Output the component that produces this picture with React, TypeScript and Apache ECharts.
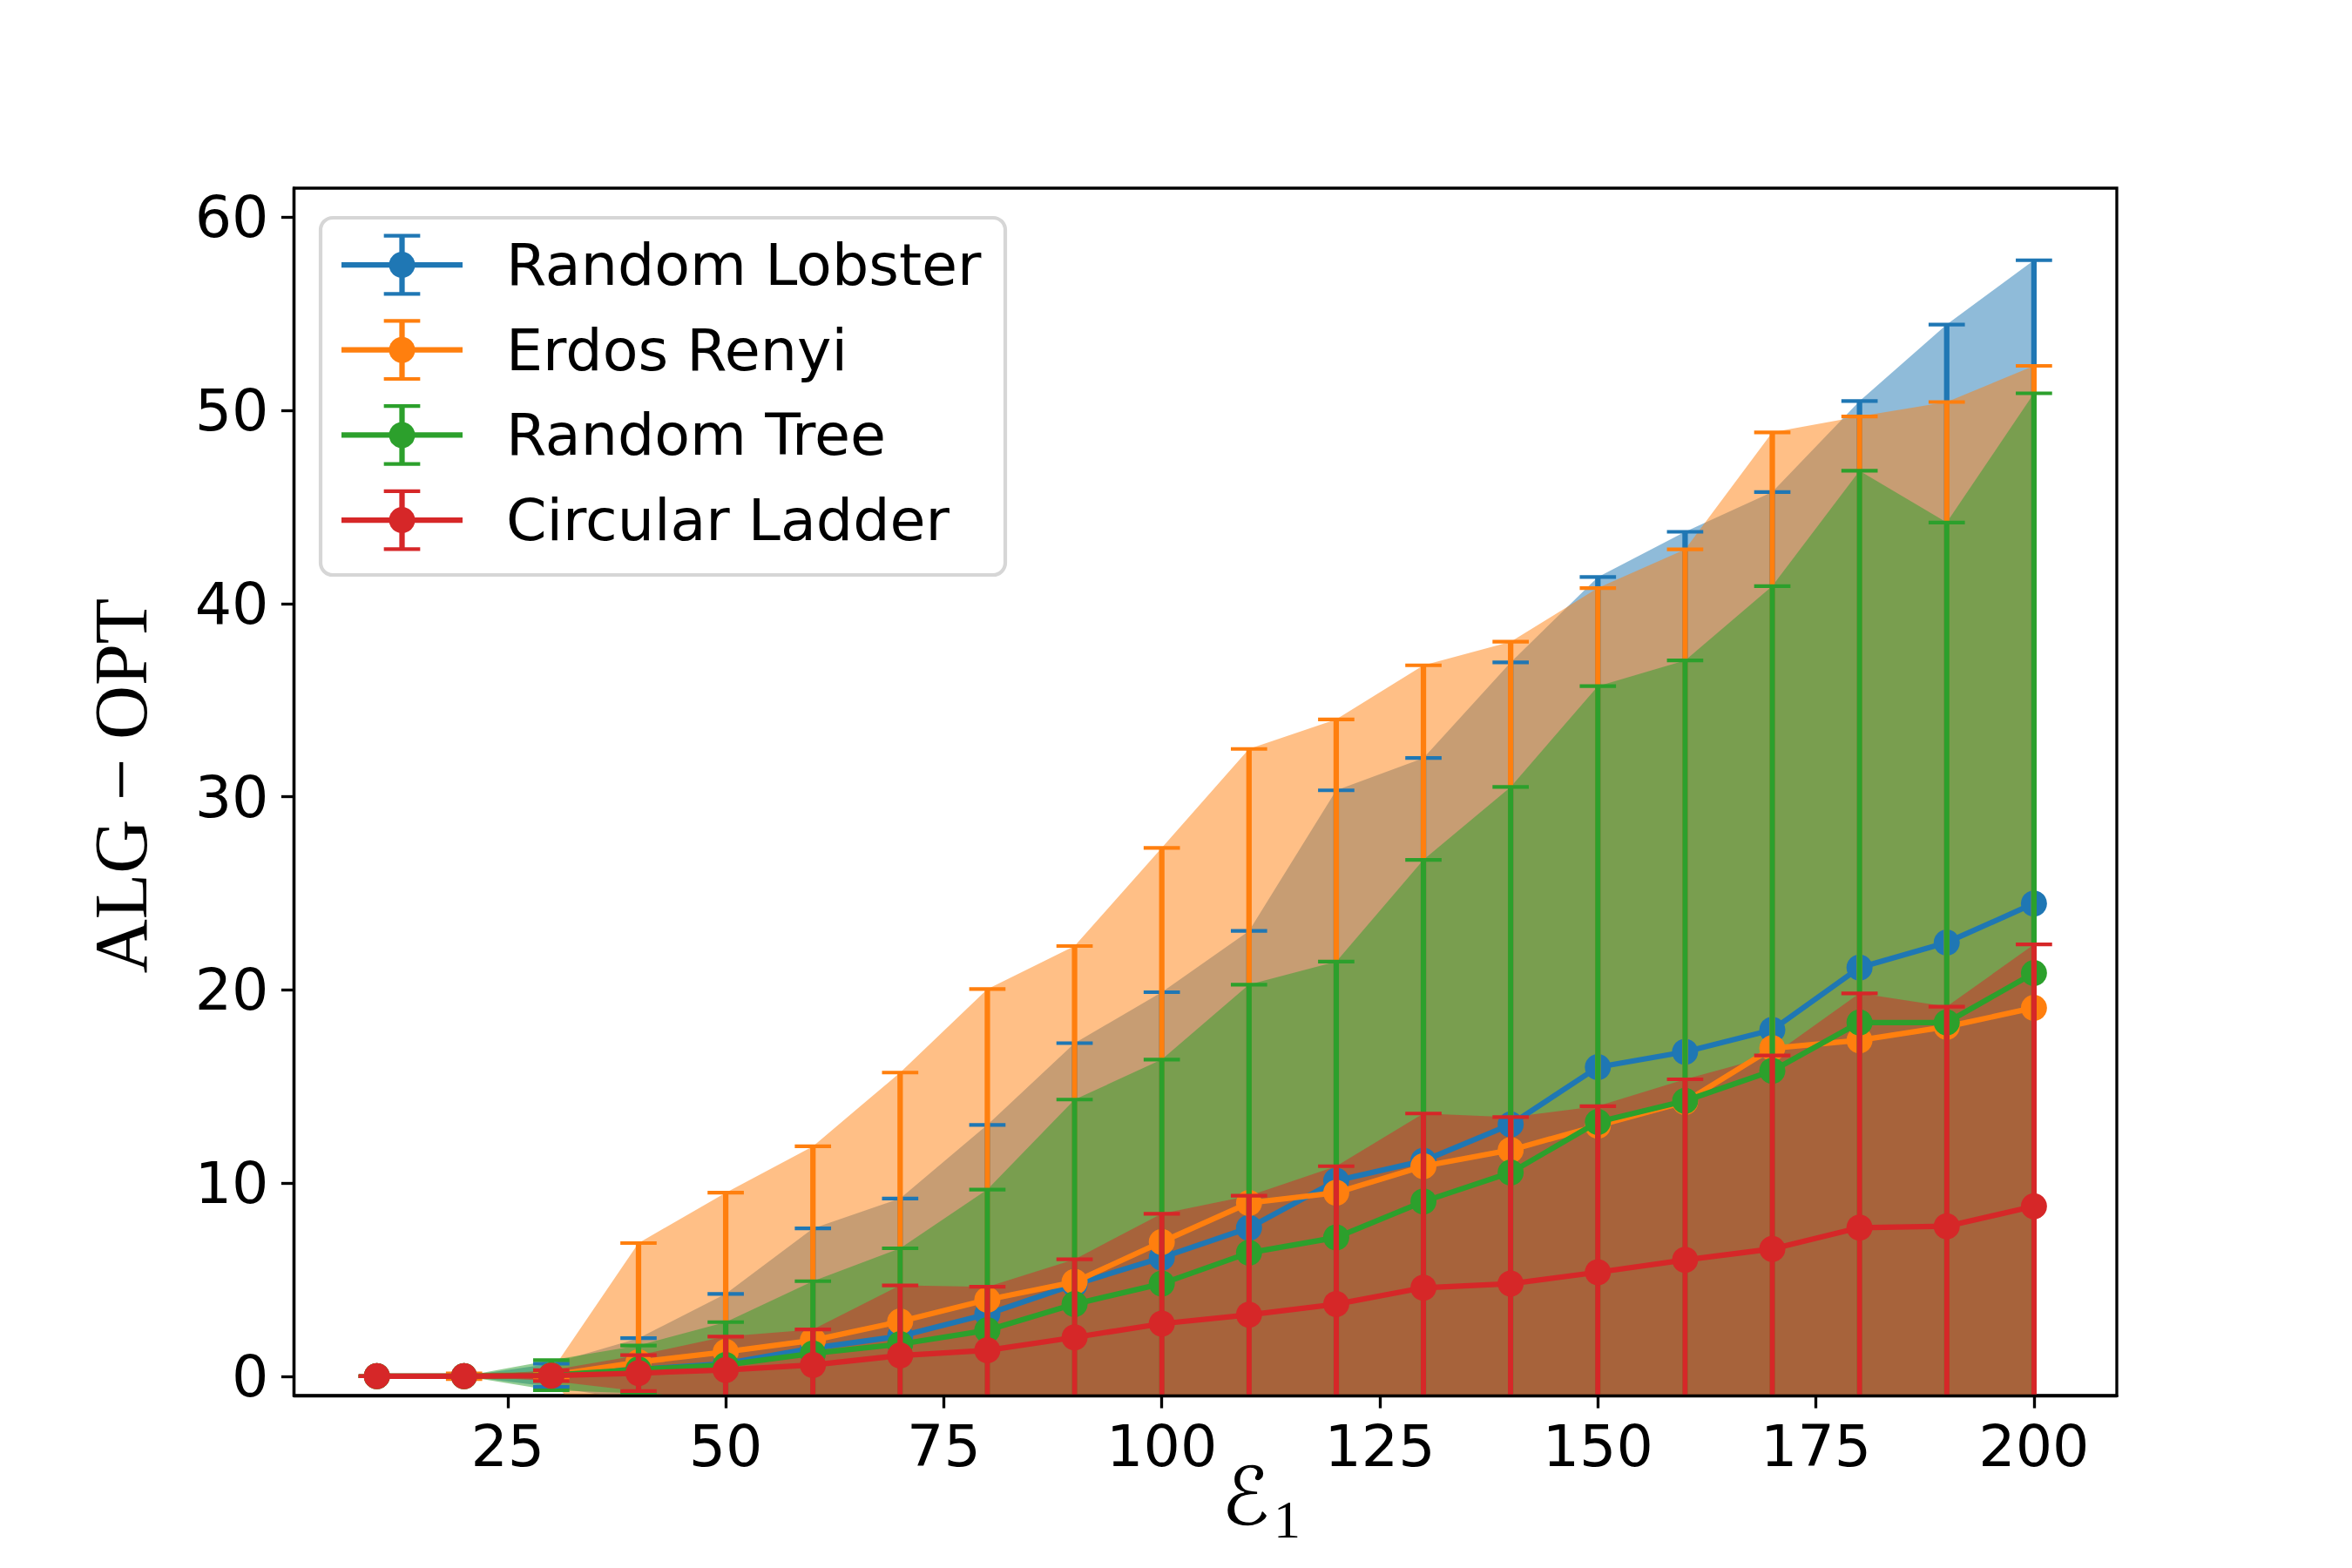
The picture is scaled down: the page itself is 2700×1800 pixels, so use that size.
import React, { useEffect, useRef } from "react";
import * as echarts from "echarts";

// ---------------- data ----------------
const xValues = [10, 20, 30, 40, 50, 60, 70, 80, 90, 100, 110, 120, 130, 140, 150, 160, 170, 180, 190, 200];
const xTickValues = [25, 50, 75, 100, 125, 150, 175, 200];
const yTickValues = [0, 10, 20, 30, 40, 50, 60];

const seriesNames = ["Random Lobster", "Erdos Renyi", "Random Tree", "Circular Ladder"];
const seriesColors = ["#1f77b4", "#ff7f0e", "#2ca02c", "#d62728"];

const lobsterMean = [0, 0, 0.05, 0.35, 0.65, 1.45, 2.07, 3.22, 4.75, 6.14, 7.68, 10.12, 11.15, 13.03, 16.0, 16.79, 17.93, 21.15, 22.45, 24.47];
const lobsterErr = [0, 0, 0.6, 1.62, 3.61, 6.2, 7.13, 9.79, 12.49, 13.74, 15.37, 20.21, 20.85, 23.92, 25.37, 26.92, 27.84, 29.33, 31.99, 33.3];

const erdosMean = [0, 0, 0.05, 0.73, 1.26, 1.86, 2.83, 3.96, 4.88, 6.95, 8.97, 9.5, 10.87, 11.71, 12.97, 14.2, 16.98, 17.39, 18.09, 19.07];
const erdosErr = [0, 0.15, 0.2, 6.16, 8.24, 10.04, 12.89, 16.08, 17.39, 20.4, 23.5, 24.5, 25.93, 26.31, 27.83, 28.6, 31.88, 32.29, 32.34, 33.23];

const treeMean = [0, 0, 0.05, 0.35, 0.58, 1.18, 1.66, 2.38, 3.73, 4.79, 6.39, 7.18, 9.04, 10.54, 13.16, 14.25, 15.81, 18.31, 18.31, 20.87];
const treeErr = [0, 0, 0.78, 1.24, 2.22, 3.74, 4.96, 7.28, 10.59, 11.6, 13.88, 14.28, 17.69, 19.96, 22.56, 22.8, 25.09, 28.56, 25.88, 30.01];

const ladderMean = [0, 0, 0.03, 0.16, 0.32, 0.58, 1.07, 1.34, 2.01, 2.72, 3.18, 3.73, 4.58, 4.79, 5.38, 6.02, 6.59, 7.69, 7.76, 8.8];
const ladderErr = [0, 0, 0.28, 0.93, 1.73, 1.84, 3.63, 3.29, 4.04, 5.69, 6.16, 7.14, 9.02, 8.62, 8.6, 9.35, 10.01, 12.13, 11.37, 13.55];

const seriesMeans = [lobsterMean, erdosMean, treeMean, ladderMean];
const seriesErrs = [lobsterErr, erdosErr, treeErr, ladderErr];

const yLabelText = "ALG \u2212 OPT";
const xLabelMain = "\u2130";
const xLabelSub = "1";

// ---------------- layout ----------------
const W = 2700;
const H = 1800;
const PT = 300 / 72;
const GRID_LEFT = 337.5;
const GRID_RIGHT = 2430;
const GRID_TOP = 216;
const GRID_BOTTOM = 1602;
const X_MIN = 0.5;
const X_MAX = 209.5;
const Y_MIN = -1;
const Y_MAX = 61.5;

const SPINE_W = 0.8 * PT;
const LINE_W = 1.5 * PT;
const CAP_W = 1.0 * PT;
const CAP_LEN = 10 * PT;
const MARKER = 30;
const FONT = 16 * PT;

function rgba(hex: string, a: number) {
  const r = parseInt(hex.slice(1, 3), 16);
  const g = parseInt(hex.slice(3, 5), 16);
  const b = parseInt(hex.slice(5, 7), 16);
  return `rgba(${r},${g},${b},${a})`;
}

export default function App() {
  const ref = useRef<HTMLDivElement>(null);

  useEffect(() => {
    if (!ref.current) return;
    const chart = echarts.init(ref.current, null, { renderer: "svg", width: W, height: H });

    const groups = seriesNames.map((name, i) => ({
      name,
      color: seriesColors[i],
      mean: seriesMeans[i],
      err: seriesErrs[i],
    }));

    const n = xValues.length;

    const fillSeries = groups.map((g, i) => ({
      type: "custom",
      name: `band-${i}`,
      coordinateSystem: "cartesian2d",
      clip: true,
      silent: true,
      z: 1,
      data: xValues.map((x, k) => [x, g.mean[k] - g.err[k], g.mean[k] + g.err[k]]),
      encode: { x: 0, y: [1, 2] },
      renderItem: (params: any, api: any) => {
        if (params.dataIndexInside !== 0) return null;
        const upper: number[][] = [];
        const lower: number[][] = [];
        for (let k = 0; k < n; k++) {
          upper.push(api.coord([api.value(0, k), api.value(2, k)]));
          lower.push(api.coord([api.value(0, k), api.value(1, k)]));
        }
        return {
          type: "polygon",
          shape: { points: upper.concat(lower.reverse()) },
          style: { fill: rgba(g.color, 0.5), stroke: "none" },
        };
      },
    }));

    const barSeries: any[] = [];
    groups.forEach((g, i) => {
      barSeries.push({
        type: "custom",
        name: `err-${i}`,
        coordinateSystem: "cartesian2d",
        clip: true,
        silent: true,
        z: 3 + 2 * i,
        data: xValues.map((x, k) => [x, g.mean[k], g.err[k]]),
        encode: { x: 0, y: 1 },
        renderItem: (params: any, api: any) => {
          const x = api.value(0);
          const m = api.value(1);
          const e = api.value(2);
          const t = api.coord([x, m + e]);
          const b = api.coord([x, m - e]);
          const h = CAP_LEN / 2;
          return {
            type: "group",
            children: [
              { type: "line", shape: { x1: t[0], y1: t[1], x2: b[0], y2: b[1] }, style: { stroke: g.color, lineWidth: LINE_W } },
              { type: "line", shape: { x1: t[0] - h, y1: t[1], x2: t[0] + h, y2: t[1] }, style: { stroke: g.color, lineWidth: CAP_W } },
              { type: "line", shape: { x1: b[0] - h, y1: b[1], x2: b[0] + h, y2: b[1] }, style: { stroke: g.color, lineWidth: CAP_W } },
            ],
          };
        },
      });
      barSeries.push({
        type: "line",
        name: g.name,
        data: xValues.map((x, k) => [x, g.mean[k]]),
        symbol: "circle",
        symbolSize: MARKER,
        showSymbol: true,
        showAllSymbol: true,
        clip: true,
        silent: true,
        z: 4 + 2 * i,
        lineStyle: { color: g.color, width: LINE_W },
        itemStyle: { color: g.color, borderWidth: 0 },
        emphasis: { disabled: true },
      });
    });

    // legend drawn as graphic
    const LEG_X = 368;
    const LEG_Y = 250;
    const LEG_W = 786;
    const LEG_H = 410;
    const ROW0 = 304;
    const ROW_GAP = 97.7;
    const H_X1 = 392;
    const H_X2 = 531;
    const H_CX = (H_X1 + H_X2) / 2;
    const legendChildren: any[] = [
      {
        type: "rect",
        shape: { x: LEG_X, y: LEG_Y, width: LEG_W, height: LEG_H, r: 14 },
        style: { fill: "rgba(255,255,255,0.8)", stroke: "#d6d6d6", lineWidth: 4.2 },
      },
    ];
    groups.forEach((g, i) => {
      const cy = ROW0 + i * ROW_GAP;
      const hh = 33.3;
      const h = CAP_LEN / 2;
      legendChildren.push(
        { type: "line", shape: { x1: H_X1, y1: cy, x2: H_X2, y2: cy }, style: { stroke: g.color, lineWidth: LINE_W } },
        { type: "line", shape: { x1: H_CX, y1: cy - hh, x2: H_CX, y2: cy + hh }, style: { stroke: g.color, lineWidth: LINE_W } },
        { type: "line", shape: { x1: H_CX - h, y1: cy - hh, x2: H_CX + h, y2: cy - hh }, style: { stroke: g.color, lineWidth: CAP_W } },
        { type: "line", shape: { x1: H_CX - h, y1: cy + hh, x2: H_CX + h, y2: cy + hh }, style: { stroke: g.color, lineWidth: CAP_W } },
        { type: "circle", shape: { cx: H_CX, cy, r: MARKER / 2 }, style: { fill: g.color } },
        {
          type: "text",
          x: 581,
          y: cy,
          style: {
            text: g.name,
            fontSize: FONT,
            fontFamily: "DejaVu Sans",
            fill: "#000",
            textAlign: "left",
            textVerticalAlign: "middle",
            align: "left",
            verticalAlign: "middle",
          },
        }
      );
    });

    const option: any = {
      animation: false,
      backgroundColor: "#ffffff",
      grid: {
        left: GRID_LEFT,
        top: GRID_TOP,
        width: GRID_RIGHT - GRID_LEFT,
        height: GRID_BOTTOM - GRID_TOP,
        show: true,
        borderColor: "#000",
        borderWidth: SPINE_W,
        backgroundColor: "transparent",
        containLabel: false,
      },
      xAxis: {
        type: "value",
        min: X_MIN,
        max: X_MAX,
        z: 20,
        axisLine: { show: true, onZero: false, lineStyle: { color: "#000", width: SPINE_W } },
        axisTick: { show: true, customValues: xTickValues, length: 3.5 * PT, lineStyle: { color: "#000", width: SPINE_W } },
        axisLabel: {
          show: true,
          customValues: xTickValues,
          margin: 24,
          fontSize: FONT,
          fontFamily: "DejaVu Sans",
          color: "#000",
        },
        splitLine: { show: false },
      },
      yAxis: {
        type: "value",
        min: Y_MIN,
        max: Y_MAX,
        z: 20,
        axisLine: { show: true, onZero: false, lineStyle: { color: "#000", width: SPINE_W } },
        axisTick: { show: true, customValues: yTickValues, length: 3.5 * PT, lineStyle: { color: "#000", width: SPINE_W } },
        axisLabel: {
          show: true,
          customValues: yTickValues,
          margin: 29,
          fontSize: FONT,
          fontFamily: "DejaVu Sans",
          color: "#000",
        },
        splitLine: { show: false },
      },
      series: [...fillSeries, ...barSeries],
      graphic: [
        { type: "group", z: 40, children: legendChildren },
        {
          type: "text",
          z: 40,
          x: 139,
          y: 902,
          rotation: Math.PI / 2,
          style: {
            text: yLabelText,
            fontSize: 86,
            fontWeight: "normal",
            fontFamily: "Liberation Serif",
            fill: "#000",
            textAlign: "center",
            textVerticalAlign: "middle",
            align: "center",
            verticalAlign: "middle",
          },
        },
        {
          type: "text",
          z: 40,
          x: 1402,
          y: 1718,
          style: {
            text: xLabelMain,
            fontSize: 92,
            fontFamily: "DejaVu Serif, DejaVu Sans",
            fill: "#000",
            textAlign: "left",
            textVerticalAlign: "middle",
            align: "left",
            verticalAlign: "middle",
          },
        },
        {
          type: "text",
          z: 40,
          x: 1462,
          y: 1744,
          style: {
            text: xLabelSub,
            fontSize: 62,
            fontFamily: "Liberation Serif",
            fill: "#000",
            textAlign: "left",
            textVerticalAlign: "middle",
            align: "left",
            verticalAlign: "middle",
          },
        },
      ],
    };

    chart.setOption(option);
    return () => {
      chart.dispose();
    };
  }, []);

  return <div ref={ref} style={{ position: "absolute", left: 0, top: 0, width: W, height: H }} />;
}
